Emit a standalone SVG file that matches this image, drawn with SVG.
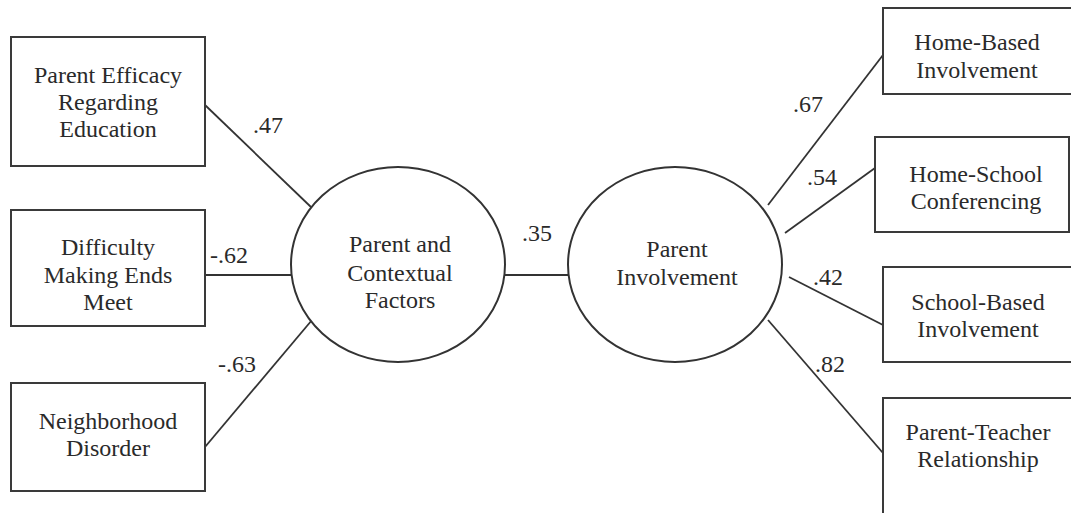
<svg xmlns="http://www.w3.org/2000/svg" width="1071" height="513" viewBox="0 0 1071 513">
<style>
.box{fill:#fff;stroke:#3a3a3a;stroke-width:2}
.ell{fill:#fff;stroke:#333;stroke-width:2}
.t{font-family:"Liberation Serif","Times New Roman",serif;font-size:24px;fill:#2a2a2a;text-anchor:middle}
.lab{font-family:"Liberation Serif","Times New Roman",serif;font-size:24px;fill:#2a2a2a}
.c{stroke:#333;stroke-width:1.8;fill:none}
</style>
<rect width="1071" height="513" fill="#fff"/>
<g id="connectors">
<line class="c" x1="205" y1="105" x2="312" y2="208"/>
<line class="c" x1="205" y1="275" x2="292" y2="275"/>
<line class="c" x1="205" y1="447" x2="312" y2="320"/>
<line class="c" x1="505" y1="275" x2="568" y2="275"/>
<line class="c" x1="768" y1="205" x2="883" y2="55"/>
<line class="c" x1="785" y1="233" x2="875" y2="168"/>
<line class="c" x1="789" y1="277" x2="883" y2="325"/>
<line class="c" x1="768" y1="320" x2="883" y2="453"/>
<text class="lab" x="253" y="133">.47</text>
<text class="lab" x="210" y="263">-.62</text>
<text class="lab" x="218" y="372">-.63</text>
<text class="lab" x="522" y="241">.35</text>
<text class="lab" x="793" y="112">.67</text>
<text class="lab" x="807" y="185">.54</text>
<text class="lab" x="813" y="285">.42</text>
<text class="lab" x="815" y="372">.82</text>
</g>
<g id="n-efficacy">
<rect class="box" x="11" y="37" width="194" height="129"/>
<text class="t" x="108" y="83">Parent Efficacy</text>
<text class="t" x="108" y="110">Regarding</text>
<text class="t" x="108" y="137">Education</text>
</g>
<g id="n-difficulty">
<rect class="box" x="11" y="210" width="194" height="116"/>
<text class="t" x="108" y="255">Difficulty</text>
<text class="t" x="108" y="283">Making Ends</text>
<text class="t" x="108" y="310">Meet</text>
</g>
<g id="n-neighborhood">
<rect class="box" x="11" y="383" width="194" height="108"/>
<text class="t" x="108" y="429">Neighborhood</text>
<text class="t" x="108" y="456">Disorder</text>
</g>
<g id="n-contextual">
<ellipse class="ell" cx="398" cy="264.5" rx="107" ry="97.5"/>
<text class="t" x="400" y="252">Parent and</text>
<text class="t" x="400" y="281">Contextual</text>
<text class="t" x="400" y="308">Factors</text>
</g>
<g id="n-involvement">
<ellipse class="ell" cx="675" cy="264.5" rx="107" ry="97.5"/>
<text class="t" x="677" y="257">Parent</text>
<text class="t" x="677" y="285">Involvement</text>
</g>
<g id="n-homebased">
<rect class="box" x="883" y="8" width="190" height="86"/>
<text class="t" x="977" y="50">Home-Based</text>
<text class="t" x="977" y="78">Involvement</text>
</g>
<g id="n-homeschool">
<rect class="box" x="875" y="137" width="194" height="95"/>
<text class="t" x="976" y="182">Home-School</text>
<text class="t" x="976" y="209">Conferencing</text>
</g>
<g id="n-schoolbased">
<rect class="box" x="883" y="267" width="190" height="95"/>
<text class="t" x="978" y="310">School-Based</text>
<text class="t" x="978" y="337">Involvement</text>
</g>
<g id="n-parentteacher">
<rect class="box" x="883" y="398" width="190" height="130"/>
<text class="t" x="978" y="440">Parent-Teacher</text>
<text class="t" x="978" y="467">Relationship</text>
</g>
</svg>
